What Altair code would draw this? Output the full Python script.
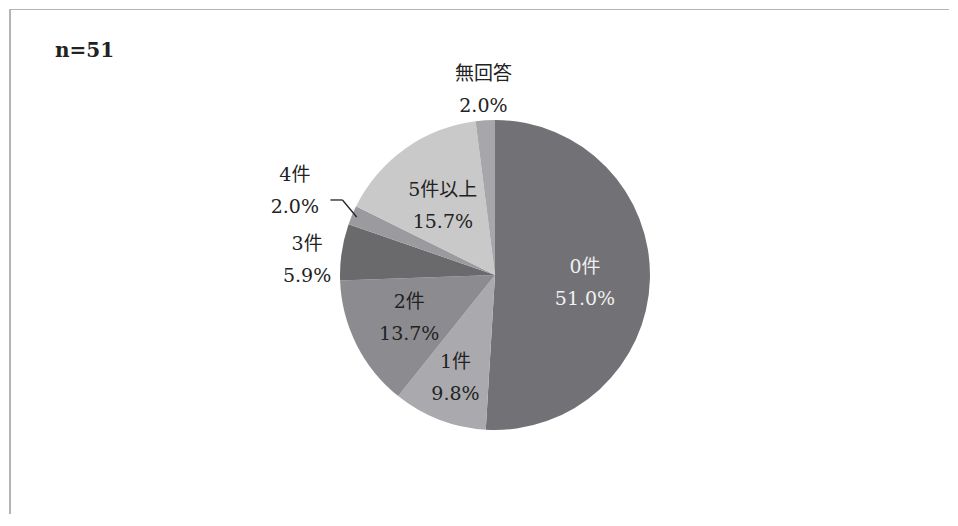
import altair as alt
import pandas as pd

categories = ["0件", "1件", "2件", "3件", "4件", "5件以上", "無回答"]
percents = [51.0, 9.8, 13.7, 5.9, 2.0, 15.7, 2.0]
colors = ["#727276", "#aaaaae", "#8c8c90", "#6a6a6c", "#9b9b9f", "#c9c9c9", "#a7a7ab"]
note = ["n=51"]

df = pd.DataFrame({"cat": categories, "pct": percents, "idx": list(range(len(categories)))})

W, H = 940, 505
CX, CY, R = 486, 266, 155
LH = 32
FONT = "DejaVu Serif, Noto Sans CJK JP, serif"

# label placement tweaks (distance from centre, vertical nudge)
R_EXPR = ("datum.cat == '4件' ? 217 : datum.cat == '3件' ? 190 : datum.cat == '無回答' ? 185 : "
          "datum.cat == '1件' ? 110 : datum.cat == '2件' ? 96 : 90")
NUDGE_EXPR = "datum.cat == '3件' ? 13 : datum.cat == '0件' ? 5 : datum.cat == '5件以上' ? 4 : 0"

base = alt.Chart(df)

arc = base.mark_arc(outerRadius=R).encode(
    theta=alt.Theta("pct:Q", stack=True),
    order=alt.Order("idx:Q"),
    color=alt.Color("cat:N", scale=alt.Scale(domain=categories, range=colors), legend=None),
    x=alt.value(CX),
    y=alt.value(CY),
)

pos = base.transform_window(
    cum="sum(pct)", sort=[alt.SortField("idx")], frame=[None, 0]
).transform_joinaggregate(
    total="sum(pct)"
).transform_calculate(
    mid="(datum.cum - datum.pct / 2) / datum.total * 2 * PI",
    r=R_EXPR,
    nudge=NUDGE_EXPR,
    lx=f"{CX} + datum.r * sin(datum.mid)",
    ly=f"{CY} - datum.r * cos(datum.mid) - {LH / 2} + datum.nudge",
    label="[datum.cat, format(datum.pct, '.1f') + '%']",
)

labels = pos.mark_text(font=FONT, fontSize=19, lineHeight=LH, align="center", baseline="middle").encode(
    x=alt.X("lx:Q", scale=None, axis=None),
    y=alt.Y("ly:Q", scale=None, axis=None),
    text="label:N",
    color=alt.condition(alt.datum.cat == "0件", alt.value("#f0f0f0"), alt.value("#222222")),
)

leader = pos.transform_filter("datum.cat == '4件'").transform_calculate(
    x1=f"{CX} + 150 * sin(datum.mid)",
    y1=f"{CY} - 150 * cos(datum.mid)",
    x2=f"{CX} + 170 * sin(datum.mid + 0.06)",
    y2=f"{CY} - 170 * cos(datum.mid + 0.06)",
    x3=f"{CX} + 170 * sin(datum.mid + 0.06) - 12",
)

leader1 = leader.mark_rule(color="#222222", strokeWidth=1.3).encode(
    x=alt.X("x1:Q", scale=None, axis=None), y=alt.Y("y1:Q", scale=None, axis=None),
    x2="x2:Q", y2="y2:Q",
)
leader2 = leader.mark_rule(color="#222222", strokeWidth=1.3).encode(
    x=alt.X("x2:Q", scale=None, axis=None), y=alt.Y("y2:Q", scale=None, axis=None),
    x2="x3:Q", y2="y2:Q",
)

note_layer = alt.Chart(pd.DataFrame({"t": note})).mark_text(
    font=FONT, fontSize=20, fontWeight="bold", align="left", baseline="middle", color="#222222"
).encode(text="t:N", x=alt.value(46), y=alt.value(42))

frame_top = alt.Chart(pd.DataFrame({"t": note})).mark_rule(color="#b4b4b4", strokeWidth=1).encode(
    x=alt.value(0), x2=alt.value(W), y=alt.value(0.5)
)
frame_left = alt.Chart(pd.DataFrame({"t": note})).mark_rule(color="#b4b4b4", strokeWidth=2).encode(
    x=alt.value(1), y=alt.value(0), y2=alt.value(H)
)

chart = alt.layer(frame_top, frame_left, arc, leader1, leader2, labels, note_layer).properties(
    width=W, height=H, padding=0
).configure_view(stroke=None)

chart.save("out.html", embed_options={"renderer": "svg", "actions": False})
